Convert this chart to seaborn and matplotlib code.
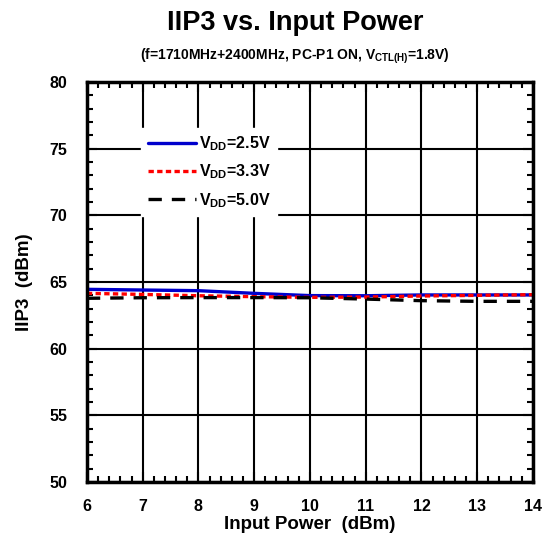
import numpy as np
import pandas as pd
import seaborn as sns
import matplotlib.pyplot as plt
from matplotlib.ticker import MultipleLocator

# data
pin = [6, 7, 8, 9, 10, 11, 12, 13, 14]
iip3_25 = [64.45, 64.4, 64.35, 64.15, 63.98, 63.97, 64.03, 64.03, 64.03]
iip3_33 = [64.15, 64.07, 63.97, 63.9, 63.85, 63.87, 63.95, 64.0, 64.05]
iip3_50 = [63.78, 63.82, 63.83, 63.83, 63.82, 63.72, 63.6, 63.55, 63.55]

labels = [r'V$_{\rm DD}$=2.5V', r'V$_{\rm DD}$=3.3V', r'V$_{\rm DD}$=5.0V']

df = pd.concat([
    pd.DataFrame({'pin': pin, 'iip3': v, 'vdd': lab})
    for v, lab in zip([iip3_25, iip3_33, iip3_50], labels)
])

sns.set_style('white')
plt.rcParams['font.family'] = ['Liberation Sans', 'DejaVu Sans']
plt.rcParams['font.weight'] = 'bold'
plt.rcParams['text.color'] = 'black'
plt.rcParams['axes.labelcolor'] = 'black'
plt.rcParams['mathtext.fontset'] = 'custom'
plt.rcParams['mathtext.rm'] = 'Liberation Sans:bold'
plt.rcParams['mathtext.bf'] = 'Liberation Sans:bold'

fig = plt.figure(figsize=(5.5, 5.43), dpi=100)
ax = fig.add_axes([0.158, 0.1123, 0.811, 0.7367])

palette = dict(zip(labels, ['#0000cc', '#ff0000', '#000000']))
dashes = dict(zip(labels, ['', (1.6, 1.0), (4, 3)]))
sns.lineplot(data=df, x='pin', y='iip3', hue='vdd', style='vdd',
             palette=palette, dashes=dashes, linewidth=2.4, ax=ax)

ax.set_xlim(6, 14)
ax.set_ylim(50, 80)
ax.xaxis.set_major_locator(MultipleLocator(1))
ax.xaxis.set_minor_locator(MultipleLocator(0.2))
ax.yaxis.set_major_locator(MultipleLocator(5))
ax.yaxis.set_minor_locator(MultipleLocator(1))
ax.grid(True, which='major', color='black', linewidth=1.5)
ax.tick_params(which='both', direction='in', top=True, right=True,
               bottom=True, left=True, labelsize=11.5, colors='black')
ax.tick_params(which='major', length=7, width=1.5)
ax.tick_params(which='minor', length=4, width=1.5)
ax.tick_params(axis='x', pad=12)
ax.tick_params(axis='y', pad=14)
for lab in ax.get_xticklabels() + ax.get_yticklabels():
    lab.set_fontweight('bold')
for sp in ax.spines.values():
    sp.set_color('black')
    sp.set_linewidth(2.5)

ax.set_xlabel('Input Power  (dBm)', fontsize=13.5, fontweight='bold', labelpad=2)
ax.set_ylabel('IIP3  (dBm)', fontsize=13.5, fontweight='bold', labelpad=12)

fig.text(0.536, 0.958, 'IIP3 vs. Input Power', ha='center', va='center',
         fontsize=19.5, fontweight='bold')
fig.text(0.536, 0.897, r'(f=1710MHz+2400MHz, PC-P1 ON, V$_{\rm CTL(H)}$=1.8V)',
         ha='center', va='center', fontsize=10, fontweight='bold')

leg = ax.legend(loc='upper left', bbox_to_anchor=(0.104, 0.905), frameon=True,
                fancybox=False, framealpha=1, edgecolor='white', facecolor='white',
                fontsize=11.5, handlelength=3.0, handletextpad=0.2,
                labelspacing=0.6, borderpad=0.4)
for t in leg.get_texts():
    t.set_fontweight('bold')

fig.savefig('out.png', dpi=100)
